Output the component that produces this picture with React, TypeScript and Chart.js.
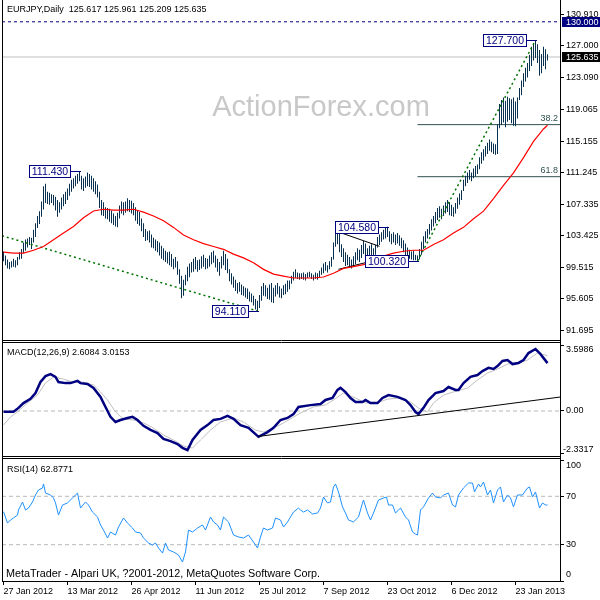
import React, { useEffect, useRef } from "react";
import { Chart, registerables } from "chart.js";

Chart.register(...registerables);

const FONT = "'Liberation Sans', Arial, sans-serif";
Chart.defaults.font.family = FONT;

// ---------------- price panel data ----------------
const chartTitle = "EURJPY,Daily  125.617 125.961 125.209 125.635";
const watermark = "ActionForex.com";
const lastClose = 125.635;
const alertLevel = 130.0;
const priceTicks = [130.91, 127.0, 123.09, 119.065, 115.155, 111.245, 107.335, 103.425, 99.515, 95.605, 91.695];

const priceHigh = [
  101.5, 101.0, 100.5, 100.2, 100.3, 100.6, 100.4, 100.8, 101.4, 101.8,
  102.6, 103.0, 103.1, 103.3, 103.2, 104.2, 105.0, 105.9, 106.5, 107.7,
  109.6, 109.9, 108.9, 108.8, 108.6, 108.5, 108.3, 107.9, 107.6, 108.2,
  108.6, 108.9, 109.3, 109.9, 110.4, 110.6, 110.9, 111.1, 111.43, 110.9,
  110.6, 110.8, 111.3, 111.1, 110.9, 110.6, 110.2, 109.8, 108.9, 107.9,
  107.6, 107.0, 106.9, 106.8, 106.6, 106.2, 105.9, 106.3, 107.2, 107.7,
  107.6, 107.7, 108.1, 107.9, 107.8, 107.5, 107.0, 106.6, 106.4, 105.6,
  105.0, 104.3, 104.0, 104.1, 103.6, 103.2, 103.0, 102.8, 102.6, 102.2,
  101.9, 101.6, 101.4, 101.5, 101.2, 100.6, 100.8, 100.3, 99.3, 98.5,
  98.0, 98.6, 99.6, 100.0, 100.2, 100.6, 100.8, 100.4, 100.5, 100.9,
  101.1, 100.7, 100.6, 101.0, 101.4, 101.6, 101.0, 100.6, 100.2, 100.9,
  101.6, 101.2, 100.6, 99.3, 98.8, 98.4, 98.0, 97.6, 97.7, 97.4,
  97.2, 97.0, 96.9, 96.5, 96.3, 96.0, 95.6, 95.4, 96.1, 97.2,
  97.6, 97.3, 97.0, 97.4, 97.6, 97.0, 97.3, 97.6, 97.2, 96.9,
  97.3, 97.5, 97.9, 97.9, 98.5, 99.0, 99.3, 98.9, 98.8, 98.8,
  98.9, 98.7, 98.9, 99.0, 98.8, 98.6, 98.9, 98.8, 99.1, 99.5,
  100.0, 100.2, 99.8, 100.3, 100.8, 102.6, 104.0, 104.1, 103.8, 102.4,
  101.9, 101.4, 101.1, 100.8, 100.5, 100.9, 101.4, 101.9, 101.7, 102.3,
  102.8, 102.5, 101.9, 102.2, 102.4, 101.9, 102.3, 103.3, 103.6, 103.9,
  104.2, 104.4, 104.58, 104.0, 103.7, 103.9, 103.6, 103.8, 103.5, 103.2,
  102.9, 102.5, 102.0, 101.7, 101.5, 101.6, 101.1, 101.0, 101.8, 102.7,
  103.4, 104.0, 104.3, 104.9, 105.5, 105.9, 106.4, 106.9, 107.1, 106.8,
  107.2, 107.6, 107.9, 107.6, 107.3, 107.0, 107.5, 108.2, 108.7, 109.1,
  110.4, 110.9, 111.3, 111.6, 111.3, 111.8, 112.1, 112.3, 113.2, 113.8,
  114.2, 114.6, 115.0, 115.4, 115.1, 114.9, 114.8, 117.3, 119.8, 120.3,
  120.6, 120.2, 120.7, 120.5, 120.4, 120.6, 120.1, 120.6, 121.8, 122.7,
  123.6, 124.3, 124.9, 125.9, 126.9, 127.3, 127.7, 127.2, 126.5, 126.0,
  126.9, 126.6, 125.961,
];

const priceLow = [
  100.3, 99.8, 99.4, 99.3, 99.5, 99.6, 99.5, 99.8, 100.5, 100.6,
  101.3, 101.6, 102.0, 102.3, 101.8, 102.6, 103.3, 104.4, 104.9, 105.8,
  106.7, 107.5, 107.4, 107.3, 107.5, 107.2, 106.6, 105.8, 106.3, 106.7,
  107.1, 107.4, 107.9, 108.4, 108.9, 109.3, 109.6, 109.9, 110.2, 109.2,
  109.0, 109.4, 109.6, 109.5, 109.2, 108.9, 108.6, 108.2, 106.9, 106.0,
  105.9, 105.6, 105.5, 105.2, 105.0, 104.8, 104.6, 104.5, 105.6, 106.2,
  106.0, 106.3, 106.5, 106.4, 106.2, 106.0, 105.3, 104.9, 104.7, 104.0,
  103.3, 102.8, 102.9, 102.6, 102.0, 101.9, 101.6, 101.4, 101.0, 100.6,
  100.4, 100.2, 100.0, 99.8, 99.6, 99.3, 99.5, 98.6, 97.5, 95.7,
  96.0, 97.3, 97.8, 98.3, 98.9, 99.0, 99.3, 99.0, 99.2, 99.4,
  99.6, 99.3, 99.4, 99.6, 99.9, 100.1, 99.5, 99.0, 98.5, 99.4,
  99.8, 99.2, 98.8, 97.8, 97.4, 97.0, 96.6, 96.3, 96.5, 96.1,
  96.0, 95.8, 95.6, 95.3, 95.2, 94.8, 94.3, 94.11, 94.5, 95.4,
  96.0, 95.9, 95.6, 95.5, 95.2, 95.1, 95.9, 96.2, 95.8, 95.7,
  96.1, 96.2, 96.5, 96.8, 97.5, 97.9, 98.2, 98.1, 98.0, 98.1,
  98.0, 97.9, 98.2, 98.3, 98.1, 97.9, 98.1, 98.0, 98.3, 98.6,
  98.8, 99.1, 98.9, 99.3, 99.6, 100.5, 102.1, 102.4, 101.4, 100.8,
  100.2, 99.7, 99.8, 99.6, 99.4, 99.6, 99.9, 100.4, 100.2, 100.7,
  101.2, 100.9, 100.6, 100.8, 101.0, 100.7, 101.1, 102.0, 102.3, 102.7,
  103.0, 103.1, 103.3, 102.7, 102.4, 102.6, 102.3, 102.5, 102.2, 101.9,
  101.4, 101.0, 100.8, 100.6, 100.5, 100.4, 100.4, 100.32, 100.5, 101.1,
  101.8, 102.6, 103.1, 103.6, 104.1, 104.6, 105.0, 105.4, 105.7, 105.5,
  105.9, 106.2, 106.4, 106.0, 105.9, 105.8, 106.2, 106.8, 107.3, 107.9,
  109.0, 109.6, 110.0, 110.4, 110.2, 110.6, 110.8, 111.1, 111.7, 112.4,
  112.8, 113.3, 113.6, 114.0, 113.8, 113.6, 113.5, 113.6, 116.8, 117.2,
  117.5, 116.9, 117.6, 117.8, 117.4, 117.1, 117.05, 118.0, 120.3, 120.9,
  121.9, 122.6, 123.1, 123.9, 124.5, 125.2, 125.5, 124.9, 123.3, 123.6,
  124.5, 124.1, 125.209,
];

const maIdx = [
  0, 5, 10, 15, 20, 25, 30, 35, 40, 45,
  50, 55, 60, 65, 70, 75, 80, 85, 90, 95,
  100, 105, 110, 115, 120, 125, 130, 135, 140, 145,
  150, 155, 160, 165, 170, 175, 180, 185, 190, 195,
  200, 205, 210, 215, 220, 225, 230, 235, 240, 245,
  250, 255, 260, 265, 270, 272,
];
const maVal = [
  101.41, 101.29, 101.29, 101.65, 102.12, 102.95, 103.78, 104.61, 105.68, 106.52,
  106.74, 106.62, 106.62, 106.74, 106.39, 105.91, 105.32, 104.49, 103.54, 102.95,
  102.48, 102.12, 101.77, 101.17, 100.7, 100.11, 99.28, 98.69, 98.45, 98.21,
  98.21, 98.21, 98.33, 98.8, 99.4, 99.63, 99.87, 100.34, 100.94, 101.29,
  101.53, 101.65, 101.65, 102.36, 102.95, 103.78, 104.49, 105.56, 106.5, 108.05,
  109.7, 111.25, 113.14, 115.16, 116.7, 117.17,
];

const fibLevels = [117.24, 110.78];
const fibNames = ["38.2", "61.8"];
const fibStart = 207;

const swingIdx = [38, 192, 207, 127, 266];
const swingVal = [111.43, 104.58, 100.32, 94.11, 127.7];

const green1Idx = [-0.75, 127];
const green1Val = [103.45, 94.11];
const green2Idx = [207, 266];
const green2Val = [100.32, 127.7];
const black1Idx = [166, 188];
const black1Val = [104.05, 102.14];
const black2Idx = [167.5, 189];
const black2Val = [99.29, 100.6];

const dateIdx = [0, 32, 64, 96, 128, 160, 192, 224, 256];
const dateLabels = ["27 Jan 2012", "13 Mar 2012", "26 Apr 2012", "11 Jun 2012", "25 Jul 2012", "7 Sep 2012", "23 Oct 2012", "6 Dec 2012", "23 Jan 2013"];

// ---------------- MACD data ----------------
const macdTitle = "MACD(12,26,9) 2.6084 3.0153";
const macdIdx = [
  0, 5, 7.5, 10, 13.5, 16, 18.5, 21, 23.5, 26,
  27.5, 31, 33.5, 37, 38.5, 42, 45, 48.5, 51, 53.5,
  56, 58.5, 62, 64.5, 67, 70, 73.5, 77, 80, 83.5,
  87, 89.5, 92, 94.5, 98.5, 102, 105, 108.5, 112, 115,
  118.5, 122.5, 127.5, 132, 135, 138.5, 142, 145, 147.5, 153.5,
  158.5, 161, 164.5, 167, 168.5, 171, 173.5, 176, 179.5, 181,
  183.5, 187, 189.5, 192.5, 197, 201, 203.5, 206, 207.5, 210,
  212.5, 216, 220, 222.5, 226, 227.5, 230, 233.5, 237, 239.5,
  242.5, 245, 247, 249.5, 252, 254.5, 257.5, 260, 262.5, 266,
  268.5, 272,
];
const macdMain = [
  -0.04, -0.04, 0.17, 0.43, 0.66, 0.98, 1.58, 1.9, 2.01, 1.86,
  1.58, 1.52, 1.52, 1.64, 1.52, 1.47, 1.26, 0.77, 0.22, -0.32,
  -0.6, -0.49, -0.38, -0.32, -0.49, -0.81, -1.03, -1.2, -1.52, -1.64,
  -1.8, -2.01, -2.13, -1.58, -1.03, -0.77, -0.49, -0.43, -0.27, -0.43,
  -0.77, -0.92, -1.41, -1.15, -0.92, -0.49, -0.38, -0.17, 0.22, 0.32,
  0.38, 0.6, 0.71, 1.15, 1.26, 1.03, 0.71, 0.49, 0.49, 0.6,
  0.43, 0.43, 0.71, 0.87, 0.77, 0.6, 0.32, -0.06, -0.17, 0.17,
  0.6, 0.98, 1.09, 1.31, 1.15, 1.15, 1.52, 1.86, 1.96, 2.18,
  2.35, 2.29, 2.45, 2.73, 2.78, 2.56, 2.62, 2.78, 3.16, 3.38,
  3.1, 2.61,
];
const signalIdx = [
  0, 3.5, 7, 12, 17, 21, 25, 30, 34.5, 39.5,
  45, 48.5, 52, 56, 60, 65, 70, 75, 80, 85,
  90, 94.5, 98.5, 103.5, 108.5, 115, 120, 126, 130, 135,
  140, 145, 148.5, 155, 161, 165, 170, 176, 181, 187,
  192, 198.5, 203.5, 207.5, 212, 215, 220, 225, 232, 237,
  242, 247, 252, 257, 262, 267, 272,
];
const macdSignal = [
  -0.76, -0.33, -0.05, 0.44, 0.87, 1.53, 1.85, 1.74, 1.58, 1.58,
  1.42, 1.04, 0.6, -0.05, -0.44, -0.49, -0.65, -0.93, -1.31, -1.58,
  -1.91, -2.02, -1.58, -1.04, -0.6, -0.38, -0.6, -1.04, -1.15, -0.93,
  -0.65, -0.33, -0.11, 0.22, 0.33, 0.6, 0.98, 0.71, 0.44, 0.44,
  0.65, 0.71, 0.49, 0.16, -0.05, 0.44, 0.87, 1.04, 1.25, 1.69,
  2.07, 2.29, 2.56, 2.62, 2.78, 3.16, 3.02,
];
const macdTicks = [3.5986, 0, -2.3317];
const macdTickText = ["3.5986", "0.00", "-2.3317"];
const macdTrendIdx = [127.25, 278.25];
const macdTrendVal = [-1.39, 0.76];

// ---------------- RSI data ----------------
const rsiTitle = "RSI(14) 62.8771";
const footerText = "MetaTrader - Alpari UK, ?2001-2012, MetaQuotes Software Corp.";
const rsiIdx = [
  0, 2, 3.5, 5, 7, 7.5, 9.5, 11, 12.5, 14.5,
  16, 17.5, 19.5, 20, 21, 23.5, 25, 26, 27.5, 29.5,
  32, 34.5, 37, 38.5, 41, 42.5, 44.5, 47, 48.5, 50,
  52, 53.5, 56, 57.5, 60, 62, 64.5, 66, 68.5, 70,
  72.5, 74.5, 76, 77.5, 79.5, 81, 82.5, 85, 87.5, 89.5,
  91, 92.5, 94.5, 97, 99.5, 101, 103.5, 105, 107, 108.5,
  110, 112.5, 115, 117.5, 120, 122.5, 125, 127, 128.5, 130,
  132, 134.5, 136, 138.5, 140, 142, 143.5, 145, 147.5, 148.5,
  150, 152, 154.5, 157, 158.5, 160, 162, 163.5, 165, 166,
  167.5, 169.5, 171, 172.5, 175, 177.5, 179.5, 180, 182, 183.5,
  185, 187.5, 190, 191.5, 192.5, 194.5, 196, 198.5, 201, 202.5,
  204.5, 206, 207, 208.5, 210, 212.5, 214.5, 216, 218.5, 220,
  222.5, 224.5, 226, 227.5, 230, 232.5, 234.5, 235.5, 237.5, 238.5,
  240, 242, 243.5, 245, 247, 248.5, 250, 252, 253.5, 255,
  257, 259.5, 262, 263, 264.5, 266, 268, 269.5, 271, 272,
];
const rsiVal = [
  57.3, 47.9, 50.4, 52.1, 54.5, 58.7, 65.3, 58.7, 60.3, 65.3,
  71.1, 75.2, 76.9, 80.2, 72.7, 71.1, 68.6, 64.5, 54.5, 62.8,
  64.5, 68.6, 72.7, 60.3, 65.3, 62.8, 57.0, 52.9, 46.3, 42.1,
  35.5, 40.5, 38.0, 44.6, 52.1, 47.9, 43.8, 40.5, 39.7, 35.5,
  31.4, 29.8, 31.4, 27.3, 23.1, 31.4, 25.6, 24.0, 21.5, 15.7,
  24.0, 42.1, 40.5, 43.8, 46.3, 42.1, 52.9, 48.8, 46.3, 42.1,
  52.9, 48.8, 38.0, 36.4, 35.5, 38.0, 32.2, 27.3, 36.4, 43.8,
  42.1, 43.8, 52.1, 50.4, 44.6, 48.8, 52.9, 57.0, 60.3, 58.7,
  57.0, 58.7, 55.4, 56.2, 60.3, 69.4, 64.5, 65.3, 77.7, 80.2,
  73.6, 61.2, 56.2, 50.4, 48.8, 52.9, 64.5, 66.9, 56.2, 50.4,
  56.2, 66.9, 68.6, 69.4, 62.8, 62.8, 56.2, 60.3, 52.9, 50.4,
  40.5, 38.8, 38.0, 58.7, 61.2, 68.6, 72.7, 69.4, 68.6, 71.1,
  72.7, 62.8, 61.2, 71.1, 76.9, 81.0, 81.0, 73.6, 80.2, 77.7,
  81.8, 71.1, 75.2, 64.5, 75.2, 77.7, 65.3, 71.1, 68.6, 61.2,
  71.1, 71.1, 76.9, 77.7, 69.4, 73.6, 60.3, 64.5, 62.8, 62.88,
];
const rsiTicks = [100, 70, 30, 0];
const rsiLevels = [70, 30];

// ---------------- helpers ----------------
const X_MIN = -0.75;
const X_MAX = 278.25;
const BAR_COLOR = "#0a3050";
const NAVY = "#000080";

const pts = (idx: number[], val: number[]) => idx.map((x, k) => ({ x, y: val[k] }));
const hline = (v: number) => [{ x: X_MIN, y: v }, { x: X_MAX, y: v }];
const fitY = (s: any) => { s.width = 40; };

function drawFrame(chart: any, topLine: number | null, bottomLine: number | null, vEnd: number) {
  const ctx = chart.ctx;
  ctx.save();
  ctx.strokeStyle = "#000";
  ctx.lineWidth = 1;
  ctx.setLineDash([]);
  ctx.beginPath();
  ctx.moveTo(2.5, 0); ctx.lineTo(2.5, vEnd);
  ctx.moveTo(560.5, 0); ctx.lineTo(560.5, vEnd);
  if (topLine !== null) { ctx.moveTo(2, topLine); ctx.lineTo(561, topLine); }
  if (bottomLine !== null) { ctx.moveTo(2, bottomLine); ctx.lineTo(561, bottomLine); }
  ctx.stroke();
  ctx.restore();
}

function text(ctx: any, s: string, x: number, y: number, size: number, color: string, align = "left") {
  ctx.save();
  ctx.font = `${size}px ${FONT}`;
  ctx.fillStyle = color;
  ctx.textAlign = align;
  ctx.textBaseline = "middle";
  ctx.fillText(s, x, y);
  ctx.restore();
}

const pricePlugin = {
  id: "priceDeco",
  beforeDatasetsDraw(chart: any) {
    text(chart.ctx, watermark, 321, 108, 29, "#c8c8c8", "center");
  },
  afterDraw(chart: any) {
    const ctx = chart.ctx;
    const xs = chart.scales.x;
    const ys = chart.scales.y;
    drawFrame(chart, null, 340.5, 341);
    text(ctx, chartTitle, 7, 10, 9, "#000");
    fibLevels.forEach((v, k) => {
      text(ctx, fibNames[k], 558, ys.getPixelForValue(v) - 6, 9, "#2f4f4f", "right");
    });
    ctx.save();
    ctx.font = `10.5px ${FONT}`;
    swingIdx.forEach((xi, k) => {
      const ax = Math.round(xs.getPixelForValue(xi));
      const ay = Math.round(ys.getPixelForValue(swingVal[k]));
      const label = swingVal[k].toFixed(3);
      const w = Math.round(ctx.measureText(label).width + 5);
      const right = ax - 10;
      const left = right - w;
      const top = ay - 6;
      ctx.fillStyle = "#fff";
      ctx.fillRect(left, top, w, 12);
      ctx.strokeStyle = NAVY;
      ctx.lineWidth = 1;
      ctx.strokeRect(left + 0.5, top + 0.5, w, 12);
      ctx.beginPath();
      ctx.moveTo(right, ay + 0.5);
      ctx.lineTo(ax + 1, ay + 0.5);
      ctx.stroke();
      ctx.fillStyle = NAVY;
      ctx.textAlign = "center";
      ctx.textBaseline = "middle";
      ctx.fillText(label, left + w / 2 + 0.5, ay + 1);
    });
    ctx.restore();
    const badge = (v: number, bg: string, s: string) => {
      const y = Math.round(ys.getPixelForValue(v));
      ctx.save();
      ctx.fillStyle = bg;
      ctx.fillRect(562, y - 5, 38, 10);
      ctx.restore();
      text(ctx, s, 566, y + 0.5, 9, "#fff");
    };
    badge(alertLevel, NAVY, alertLevel.toFixed(3));
    badge(lastClose, "#000", lastClose.toFixed(3));
  },
};

const macdPlugin = {
  id: "macdDeco",
  afterDraw(chart: any) {
    const ctx = chart.ctx;
    const ys = chart.scales.y;
    drawFrame(chart, 1.5, 115.5, 117);
    text(ctx, macdTitle, 7, 12, 9, "#000");
    macdTicks.forEach((v, k) => {
      let y = ys.getPixelForValue(v);
      if (k === 0) y += 5;
      if (k === macdTicks.length - 1) y -= 4;
      text(ctx, macdTickText[k], v < 0 ? 563 : 566, y, 9, "#000");
    });
  },
};

const rsiPlugin = {
  id: "rsiDeco",
  afterDraw(chart: any) {
    const ctx = chart.ctx;
    const ys = chart.scales.y;
    drawFrame(chart, 0.5, 123.5, 124);
    text(ctx, rsiTitle, 7, 12, 9, "#000");
    text(ctx, footerText, 6, 116, 10.8, "#000");
    rsiTicks.forEach((v, k) => {
      let y = ys.getPixelForValue(v);
      if (k === 0) y += 6;
      if (k === rsiTicks.length - 1) y -= 6;
      text(ctx, String(v), 566, y, 9, "#000");
    });
  },
};

const yAxisBase = (min: number, max: number, ticks: number[]) => ({
  type: "linear",
  position: "right",
  min,
  max,
  afterFit: fitY,
  afterBuildTicks: (s: any) => { s.ticks = ticks.map((v) => ({ value: v })); },
  grid: { drawOnChartArea: false, tickLength: 4, color: "#000" },
  border: { color: "#000" },
});

const hiddenX = { type: "linear", min: X_MIN, max: X_MAX, display: false, offset: false };

function makePrice(): any {
  const bars = priceHigh.map((h, i) => ({ x: i, y: [priceLow[i], h] }));
  return {
    type: "bar",
    data: {
      datasets: [
        { type: "line", data: pts(maIdx, maVal), borderColor: "#ff0000", borderWidth: 1.2, pointRadius: 0, order: 1 },
        { type: "line", data: pts(black1Idx, black1Val), borderColor: "#000", borderWidth: 1, pointRadius: 0, order: 2 },
        { type: "line", data: pts(black2Idx, black2Val), borderColor: "#000", borderWidth: 1, pointRadius: 0, order: 2 },
        { type: "line", data: pts(green1Idx, green1Val), borderColor: "#007000", borderWidth: 1.5, borderDash: [2, 3], pointRadius: 0, order: 3 },
        { type: "line", data: pts(green2Idx, green2Val), borderColor: "#007000", borderWidth: 1.5, borderDash: [2, 3], pointRadius: 0, order: 3 },
        { type: "bar", data: bars, backgroundColor: BAR_COLOR, barThickness: 1, borderWidth: 0, inflateAmount: 0, order: 10 },
        ...fibLevels.map((v) => ({
          type: "line", data: [{ x: fibStart, y: v }, { x: X_MAX, y: v }], borderColor: "#2f4f4f", borderWidth: 1, pointRadius: 0, order: 15,
        })),
        { type: "line", data: hline(alertLevel), borderColor: NAVY, borderWidth: 1, borderDash: [3, 3], pointRadius: 0, order: 18 },
        { type: "line", data: hline(lastClose), borderColor: "#c0c0c0", borderWidth: 1, pointRadius: 0, order: 20 },
      ],
    },
    options: {
      responsive: false,
      animation: false,
      events: [],
      layout: { padding: { left: 2, top: 0, bottom: 1, right: 0 } },
      plugins: { legend: { display: false }, tooltip: { enabled: false } },
      scales: {
        x: hiddenX,
        y: {
          ...yAxisBase(91.31, 131.786, priceTicks),
          ticks: { callback: (v: any) => Number(v).toFixed(3), font: { family: FONT, size: 9 }, color: "#000", padding: 2, autoSkip: false },
        },
      },
    },
    plugins: [pricePlugin],
  };
}

function makeMacd(): any {
  return {
    type: "line",
    data: {
      datasets: [
        { data: pts(macdTrendIdx, macdTrendVal), borderColor: "#000", borderWidth: 1, pointRadius: 0, order: 1 },
        { data: pts(macdIdx, macdMain), borderColor: NAVY, borderWidth: 2.5, pointRadius: 0, order: 2 },
        { data: pts(signalIdx, macdSignal), borderColor: "#c0c0c0", borderWidth: 1, pointRadius: 0, order: 3 },
        { data: hline(0), borderColor: "#b8b8b8", borderWidth: 1, borderDash: [4, 3], pointRadius: 0, order: 4 },
      ],
    },
    options: {
      responsive: false,
      animation: false,
      events: [],
      layout: { padding: { left: 2, top: 2, bottom: 2, right: 0 } },
      plugins: { legend: { display: false }, tooltip: { enabled: false } },
      scales: {
        x: hiddenX,
        y: { ...yAxisBase(-2.454, 3.708, macdTicks), ticks: { display: false } },
      },
    },
    plugins: [macdPlugin],
  };
}

function makeRsi(): any {
  return {
    type: "line",
    data: {
      datasets: [
        { data: pts(rsiIdx, rsiVal), borderColor: "#1e90ff", borderWidth: 1, pointRadius: 0, order: 1 },
        ...rsiLevels.map((v) => ({ data: hline(v), borderColor: "#b8b8b8", borderWidth: 1, borderDash: [4, 3], pointRadius: 0, order: 5 })),
      ],
    },
    options: {
      responsive: false,
      animation: false,
      events: [],
      layout: { padding: { left: 2, top: 1, bottom: 0, right: 0 } },
      plugins: { legend: { display: false }, tooltip: { enabled: false } },
      scales: {
        x: {
          type: "linear",
          min: X_MIN,
          max: X_MAX,
          offset: false,
          afterFit: (s: any) => { s.height = 19; },
          afterBuildTicks: (s: any) => { s.ticks = dateIdx.map((v) => ({ value: v })); },
          ticks: {
            callback: (_v: any, i: number) => dateLabels[i],
            align: "start",
            autoSkip: false,
            maxRotation: 0,
            minRotation: 0,
            padding: 1,
            color: "#000",
            font: { family: FONT, size: 9 },
          },
          grid: { drawOnChartArea: false, tickLength: 4, color: "#000" },
          border: { color: "#000" },
        },
        y: { ...yAxisBase(0, 100.83, rsiTicks), ticks: { display: false } },
      },
    },
    plugins: [rsiPlugin],
  };
}

function ChartCanvas({ make, top, height }: { make: () => any; top: number; height: number }) {
  const ref = useRef<HTMLCanvasElement>(null);
  useEffect(() => {
    const chart = new Chart(ref.current as HTMLCanvasElement, make());
    return () => chart.destroy();
  }, []);
  return (
    <canvas
      ref={ref}
      width={600}
      height={height}
      style={{ position: "absolute", left: 0, top, width: 600, height, display: "block" }}
    />
  );
}

export default function App() {
  return (
    <div style={{ position: "fixed", left: 0, top: 0, width: 600, height: 600, background: "#fff", overflow: "hidden" }}>
      <ChartCanvas make={makePrice} top={0} height={341} />
      <ChartCanvas make={makeMacd} top={341} height={117} />
      <ChartCanvas make={makeRsi} top={458} height={142} />
    </div>
  );
}
